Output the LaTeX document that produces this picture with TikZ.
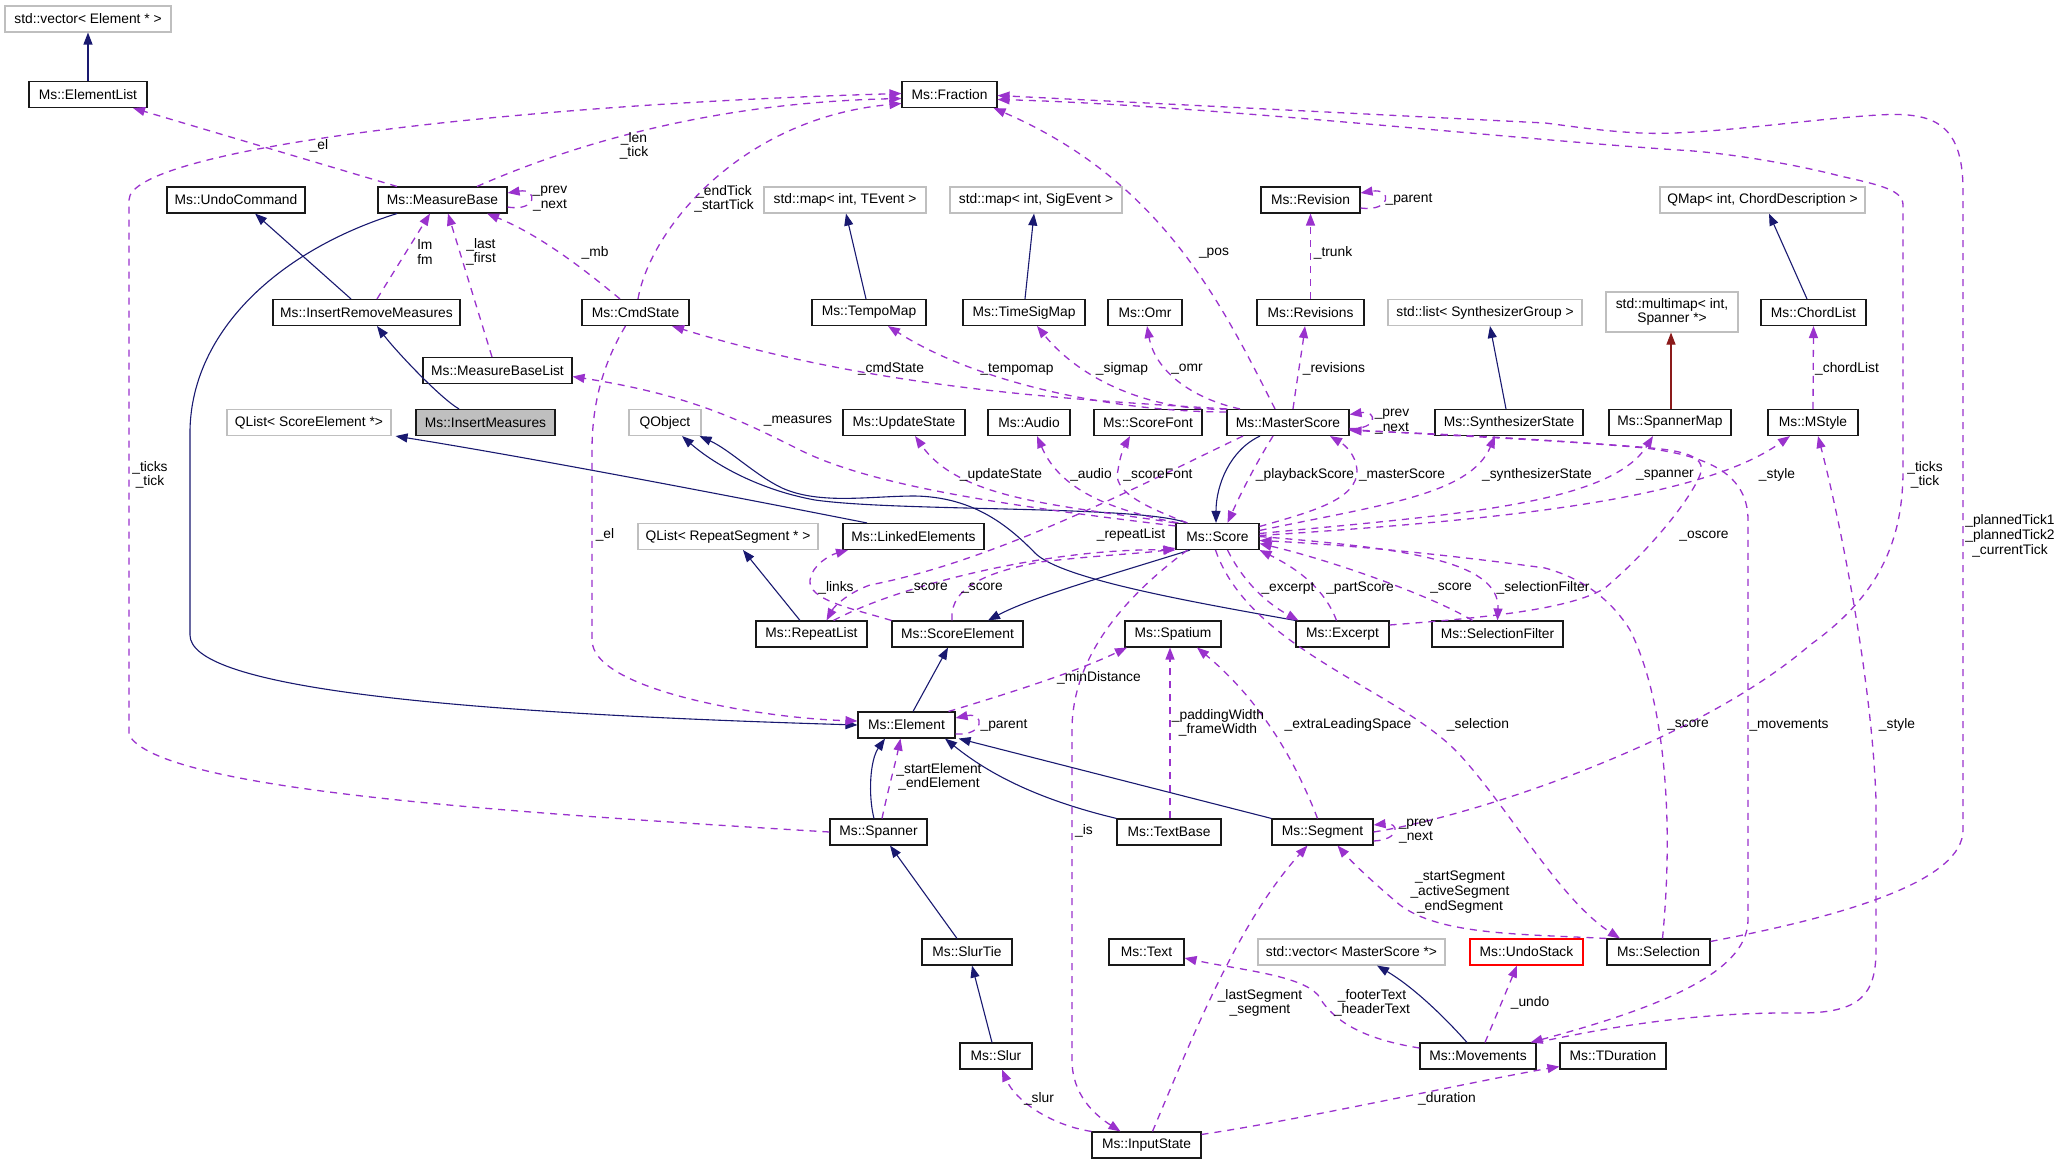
\documentclass[tikz,border=0pt]{standalone}
\usepackage{fontspec}
\setmainfont{Liberation Sans}
\usetikzlibrary{arrows.meta}
\definecolor{inhblue}{HTML}{191970}
\definecolor{usepurple}{HTML}{9A32CD}
\definecolor{tmplred}{HTML}{8B1A1A}
\definecolor{extgray}{HTML}{BFBFBF}

\begin{document}
\begin{tikzpicture}[x=1pt,y=-1pt,
  cls/.style={draw=black!90,line width=1.1pt,minimum height=26pt,inner xsep=2pt,inner ysep=1pt,align=center,font=\fontsize{13.8}{14.7}\selectfont},
  ext/.style={cls,draw=extgray},
  lbl/.style={inner sep=0pt,align=center,font=\fontsize{13.8}{14.7}\selectfont},
  derive/.style={draw=inhblue,line width=1.1pt,-{Triangle[length=12pt,width=9pt]}},
  member/.style={draw=usepurple,line width=1.3pt,dash pattern=on 7pt off 6pt,-{Triangle[length=12pt,width=9pt]}}]
\useasboundingbox (0,0) rectangle (2059,1164);

\node[ext,minimum width=166pt] (vecElem) at (88,19) {std::vector< Element * >};
\node[cls,minimum width=118pt] (ElementList) at (88,94.5) {Ms::ElementList};
\node[cls,minimum width=138pt] (UndoCommand) at (236,200) {Ms::UndoCommand};
\node[cls,minimum width=129pt] (MeasureBase) at (442.5,200) {Ms::MeasureBase};
\node[cls,minimum width=187pt] (InsertRemoveMeasures) at (366.5,312.5) {Ms::InsertRemoveMeasures};
\node[cls,minimum width=149pt] (MeasureBaseList) at (497.5,370.5) {Ms::MeasureBaseList};
\node[cls,fill=extgray,minimum width=139pt] (InsertMeasures) at (485.5,422.5) {Ms::InsertMeasures};
\node[ext,minimum width=164pt] (QListSE) at (309,422.5) {QList< ScoreElement *>};
\node[cls,minimum width=95pt] (Fraction) at (949.5,94.5) {Ms::Fraction};
\node[cls,minimum width=107pt] (CmdState) at (635.5,312.5) {Ms::CmdState};
\node[ext,minimum width=162pt] (mapTEvent) at (845,200) {std::map< int, TEvent >};
\node[cls,minimum width=114pt] (TempoMap) at (869,312.5) {Ms::TempoMap};
\node[ext,minimum width=172pt] (mapSigEvent) at (1036,200) {std::map< int, SigEvent >};
\node[cls,minimum width=122pt] (TimeSigMap) at (1024,312.5) {Ms::TimeSigMap};
\node[cls,minimum width=74pt] (Omr) at (1145,312.5) {Ms::Omr};
\node[cls,minimum width=99pt] (Revision) at (1310.5,200) {Ms::Revision};
\node[cls,minimum width=107pt] (Revisions) at (1310.5,312.5) {Ms::Revisions};
\node[ext,minimum width=194pt] (listSynth) at (1485,312.5) {std::list< SynthesizerGroup >};
\node[ext,minimum width=132pt,minimum height=40pt] (multimap) at (1672,312) {std::multimap< int,\\ Spanner *>};
\node[ext,minimum width=205pt] (QMap) at (1762.5,200) {QMap< int, ChordDescription >};
\node[cls,minimum width=105pt] (ChordList) at (1813.5,312.5) {Ms::ChordList};
\node[ext,minimum width=72pt] (QObject) at (665,422.5) {QObject};
\node[cls,minimum width=122pt] (UpdateState) at (904,422.5) {Ms::UpdateState};
\node[cls,minimum width=82pt] (Audio) at (1029,422.5) {Ms::Audio};
\node[cls,minimum width=108pt] (ScoreFont) at (1148,422.5) {Ms::ScoreFont};
\node[cls,minimum width=122pt] (MasterScore) at (1288,422.5) {Ms::MasterScore};
\node[cls,minimum width=148pt] (SynthesizerState) at (1509,422.5) {Ms::SynthesizerState};
\node[cls,minimum width=122pt] (SpannerMap) at (1670,422.5) {Ms::SpannerMap};
\node[cls,minimum width=90pt] (MStyle) at (1813,422.5) {Ms::MStyle};
\node[ext,minimum width=180pt] (QListRS) at (728,536.5) {QList< RepeatSegment * >};
\node[cls,minimum width=141pt] (LinkedElements) at (913.5,536.5) {Ms::LinkedElements};
\node[cls,minimum width=83pt] (Score) at (1217.5,536.5) {Ms::Score};
\node[cls,minimum width=111pt] (RepeatList) at (811.5,634) {Ms::RepeatList};
\node[cls,minimum width=131pt] (ScoreElement) at (957.5,634) {Ms::ScoreElement};
\node[cls,minimum width=96pt] (Spatium) at (1173,634) {Ms::Spatium};
\node[cls,minimum width=93pt] (Excerpt) at (1342.5,634) {Ms::Excerpt};
\node[cls,minimum width=131pt] (SelectionFilter) at (1497.5,634) {Ms::SelectionFilter};
\node[cls,minimum width=97pt] (Element) at (906.5,725) {Ms::Element};
\node[cls,minimum width=97pt] (Spanner) at (878.5,832) {Ms::Spanner};
\node[cls,minimum width=104pt] (TextBase) at (1169,832) {Ms::TextBase};
\node[cls,minimum width=101pt] (Segment) at (1322.5,832) {Ms::Segment};
\node[cls,minimum width=90pt] (SlurTie) at (967,952) {Ms::SlurTie};
\node[cls,minimum width=75pt] (Text) at (1146.5,952) {Ms::Text};
\node[ext,minimum width=187pt] (vecMS) at (1351.5,952) {std::vector< MasterScore *>};
\node[cls,draw=red,minimum width=113pt] (UndoStack) at (1526.5,952) {Ms::UndoStack};
\node[cls,minimum width=103pt] (Selection) at (1658.5,952) {Ms::Selection};
\node[cls,minimum width=72pt] (Slur) at (996,1056) {Ms::Slur};
\node[cls,minimum width=116pt] (Movements) at (1478,1056) {Ms::Movements};
\node[cls,minimum width=106pt] (TDuration) at (1613,1056) {Ms::TDuration};
\node[cls,minimum width=109pt] (InputState) at (1146.5,1145) {Ms::InputState};

\draw[derive] (ElementList.north) -- (vecElem.south);
\draw[derive] ([xshift=-15.5]InsertRemoveMeasures.north) -- ([xshift=19]UndoCommand.south);
\draw[derive] ([xshift=-26.5]InsertMeasures.north) .. controls (440,398) and (395,350) .. ([xshift=10.5]InsertRemoveMeasures.south);
\draw[derive] ([xshift=-3]TempoMap.north) -- ([xshift=1]mapTEvent.south);
\draw[derive] ([xshift=1]TimeSigMap.north) -- ([xshift=-2]mapSigEvent.south);
\draw[derive] ([xshift=-3]SynthesizerState.north) -- ([xshift=5]listSynth.south);
\draw[derive,draw=tmplred] ([xshift=1]SpannerMap.north) -- ([xshift=-1]multimap.south);
\draw[derive] ([xshift=-6.5]ChordList.north) -- ([xshift=6.5]QMap.south);
\draw[derive] ([xshift=-45.5]MeasureBase.south) .. controls (280,250) and (192,330) .. (190,430) -- (190,635) .. controls (190,685) and (420,712) .. (Element.west);
\draw[derive] ([xshift=-28]MasterScore.south) .. controls (1230,450) and (1216,485) .. ([xshift=-1.5]Score.north);
\draw[derive] ([xshift=-30.5]Score.north) .. controls (1140,505) and (900,512) .. (815,500) .. controls (760,490) and (715,465) .. ([xshift=17]QObject.south);
\draw[derive] (Excerpt.north west) .. controls (1180,600) and (1060,578) .. (1035,553) .. controls (1005,522) and (970,497) .. (915,496) .. controls (870,496) and (820,505) .. (782,488) .. controls (755,475) and (730,450) .. ([xshift=-2]QObject.south east);
\draw[derive] ([xshift=-46.5]LinkedElements.north) .. controls (700,490) and (520,456) .. ([xshift=4]QListSE.south east);
\draw[derive] ([xshift=-11.5]RepeatList.north) -- ([xshift=15]QListRS.south);
\draw[derive] ([xshift=-27.5]Score.south) .. controls (1100,578) and (1030,598) .. ([xshift=30.5]ScoreElement.north);
\draw[derive] ([xshift=6.5]Element.north) -- ([xshift=-9.5]ScoreElement.south);
\draw[derive] ([xshift=-4.5]Spanner.north) .. controls (868,795) and (870,760) .. ([xshift=-21.5]Element.south);
\draw[derive] (TextBase.north west) .. controls (1040,800) and (990,775) .. ([xshift=38.5]Element.south);
\draw[derive] (Segment.north west) -- ([xshift=3]Element.south east);
\draw[derive] ([xshift=-10]SlurTie.north) -- ([xshift=11.5]Spanner.south);
\draw[derive] ([xshift=-4]Slur.north) -- ([xshift=5]SlurTie.south);
\draw[derive] ([xshift=-11]Movements.north) .. controls (1440,1012) and (1410,985) .. ([xshift=25.5]vecMS.south);

\draw[member] ([xshift=-45.5]MeasureBase.north) -- ([xshift=45]ElementList.south);
\draw[member] ([xshift=34.5]MeasureBase.north) .. controls (560,150) and (700,103) .. ([yshift=-4]Fraction.west);
\draw[member] ([yshift=-7]MeasureBase.east) .. controls (538,212) and (538,188) .. ([yshift=7]MeasureBase.east);
\draw[member] ([xshift=10.5]InsertRemoveMeasures.north) -- ([xshift=-12.5]MeasureBase.south);
\draw[member] ([xshift=-5.5]MeasureBaseList.north) -- ([xshift=5.5]MeasureBase.south);
\draw[member] ([xshift=-15.5]CmdState.north) .. controls (585,270) and (540,235) .. ([xshift=44.5]MeasureBase.south);
\draw[member] ([xshift=2.5]CmdState.north) .. controls (650,230) and (740,118) .. ([yshift=-9]Fraction.west);
\draw[member] (Spanner.west) .. controls (500,812) and (160,790) .. (129,735) -- (129,200) .. controls (129,150) and (500,105) .. ([yshift=1]Fraction.west);
\draw[member] ([xshift=-13]MasterScore.north) .. controls (1220,300) and (1160,180) .. ([xshift=-4]Fraction.south east);
\draw[member] ([yshift=-3]Selection.north east) .. controls (1850,915) and (1963,880) .. (1963,830) -- (1963,190) .. controls (1963,120) and (1930,112) .. (1878,115) .. controls (1800,120) and (1700,136) .. (1640,133) .. controls (1600,131) and (1570,126) .. (1545,123) -- ([yshift=-1]Fraction.east);
\draw[member] (Segment.east) .. controls (1480,815) and (1700,740) .. (1810,645) .. controls (1880,595) and (1903,540) .. (1903,470) -- (1903,205) .. controls (1903,190) and (1880,185) .. (1840,176) .. controls (1790,163) and (1720,152) .. (1678,150) .. controls (1500,138) and (1200,105) .. ([yshift=-5]Fraction.east);
\draw[member] (MasterScore.north west) .. controls (1080,400) and (880,390) .. ([xshift=36.5]CmdState.south);
\draw[member] ([yshift=-3]MasterScore.north west) .. controls (1120,412) and (980,385) .. ([xshift=19]TempoMap.south);
\draw[member] ([xshift=1]MasterScore.north west) .. controls (1160,412) and (1085,385) .. ([xshift=13]TimeSigMap.south);
\draw[member] ([xshift=-48]MasterScore.north) .. controls (1190,398) and (1155,370) .. ([xshift=2]Omr.south);
\draw[member] ([xshift=5]MasterScore.north) .. controls (1297,380) and (1302,350) .. ([xshift=-5.5]Revisions.south);
\draw[member] (Revisions.north) -- (Revision.south);
\draw[member] ([yshift=-8]Revision.east) .. controls (1392,212) and (1392,188) .. ([yshift=7]Revision.east);
\draw[member] (MStyle.north) -- (ChordList.south);
\draw[member] ([yshift=-6]MasterScore.east) .. controls (1378,430) and (1378,410) .. ([yshift=8]MasterScore.east);
\draw[member] ([yshift=-7]MasterScore.east) .. controls (1450,436) and (1560,440) .. (1645,448) .. controls (1700,455) and (1748,470) .. (1748,520) -- (1748,920) .. controls (1748,975) and (1650,1010) .. ([xshift=-6]Movements.north east);
\draw[member] ([yshift=9]Excerpt.east) .. controls (1480,618) and (1570,610) .. (1605,588) .. controls (1650,550) and (1690,500) .. (1700,475) .. controls (1708,455) and (1680,450) .. (1640,447) .. controls (1550,440) and (1450,434) .. ([yshift=-8]MasterScore.east);
\draw[member] ([yshift=10]Score.east) .. controls (1310,512) and (1358,500) .. (1357,470) .. controls (1356,455) and (1345,445) .. ([xshift=42]MasterScore.south);
\draw[member] ([xshift=-15]MasterScore.south) .. controls (1255,465) and (1240,495) .. ([xshift=10]Score.north);
\draw[member] (Score.north west) .. controls (1060,505) and (960,500) .. ([xshift=11]UpdateState.south);
\draw[member] ([xshift=3]Score.north west) .. controls (1110,510) and (1060,490) .. ([xshift=8]Audio.south);
\draw[member] ([xshift=-30]Score.north) .. controls (1140,505) and (1112,490) .. (1118,470) .. controls (1120,455) and (1125,445) .. ([xshift=-18]ScoreFont.south);
\draw[member] ([yshift=-3]Score.north west) .. controls (1000,505) and (870,485) .. (800,450) .. controls (740,420) and (690,395) .. ([yshift=-6]MeasureBaseList.east);
\draw[member] ([xshift=-45]MasterScore.south) .. controls (1150,480) and (1000,560) .. (870,585) .. controls (850,592) and (835,605) .. ([xshift=15]RepeatList.north);
\draw[member] (ScoreElement.north west) .. controls (850,608) and (808,600) .. (810,580) .. controls (812,565) and (830,555) .. ([xshift=-65.5]LinkedElements.south);
\draw[member] ([xshift=22]RepeatList.north) .. controls (900,585) and (1050,548) .. (Score.south west);
\draw[member] ([xshift=-5.5]ScoreElement.north) .. controls (950,595) and (970,575) .. (1040,562) .. controls (1100,555) and (1150,553) .. ([yshift=2]Score.south west);
\draw[member] ([xshift=10]Score.south) .. controls (1245,585) and (1270,605) .. ([xshift=3]Excerpt.north west);
\draw[member] ([xshift=-6]Excerpt.north) .. controls (1325,590) and (1300,570) .. (Score.south east);
\draw[member] ([xshift=-25]SelectionFilter.north) .. controls (1430,595) and (1330,560) .. ([yshift=-7]Score.east);
\draw[member] (Score.east) .. controls (1400,548) and (1500,560) .. (SelectionFilter.north);
\draw[member] ([xshift=4]Selection.north) .. controls (1674,820) and (1665,700) .. (1630,630) .. controls (1605,590) and (1570,575) .. (1545,568) .. controls (1450,555) and (1350,545) .. ([yshift=-4]Score.east);
\draw[member] ([xshift=-2]Score.south) .. controls (1250,650) and (1400,690) .. (1460,755) .. controls (1510,810) and (1560,900) .. ([xshift=-38.5]Selection.north);
\draw[member] ([xshift=-5]Segment.north) .. controls (1295,760) and (1260,700) .. ([xshift=24]Spatium.south);
\draw[member] ([xshift=1]TextBase.north) -- ([xshift=-3]Spatium.south);
\draw[member] ([xshift=42]Element.north) .. controls (1020,690) and (1080,670) .. ([xshift=-46]Spatium.south);
\draw[member] ([yshift=-9]Element.east) .. controls (985,736) and (985,712) .. ([yshift=7]Element.east);
\draw[member] ([xshift=-10]CmdState.south) .. controls (605,360) and (592,400) .. (592,450) -- (592,640) .. controls (592,690) and (760,718) .. ([yshift=4]Element.west);
\draw[member] ([xshift=3.5]Spanner.north) .. controls (888,790) and (895,765) .. ([xshift=-6]Element.south);
\draw[member] ([yshift=-9]Segment.east) .. controls (1400,840) and (1400,822) .. ([yshift=7]Segment.east);
\draw[member] ([xshift=6]InputState.north) .. controls (1195,1030) and (1240,920) .. ([xshift=-15]Segment.south);
\draw[member] (Selection.north west) .. controls (1520,934) and (1440,935) .. (1400,905) .. controls (1370,880) and (1350,860) .. ([xshift=15]Segment.south);
\draw[member] ([xshift=7]Movements.north) -- ([xshift=-9.5]UndoStack.south);
\draw[member] ([yshift=8]Movements.west) .. controls (1370,1040) and (1335,1025) .. (1318,995) .. controls (1300,975) and (1240,970) .. ([yshift=-6]Text.east);
\draw[member] ([yshift=-3]InputState.north east) .. controls (1300,1120) and (1480,1080) .. ([yshift=3]TDuration.south west);
\draw[member] (InputState.north west) .. controls (1050,1125) and (1015,1100) .. ([xshift=6]Slur.south);
\draw[member] ([xshift=-30]Score.south) .. controls (1120,600) and (1072,660) .. (1072,730) -- (1072,1060) .. controls (1072,1095) and (1095,1115) .. ([xshift=-26]InputState.north);
\draw[member] (Movements.north east) .. controls (1620,1025) and (1700,1012) .. (1800,1013) .. controls (1860,1013) and (1876,995) .. (1876,950) -- (1876,800) .. controls (1872,680) and (1840,520) .. ([xshift=5]MStyle.south);
\draw[member] ([yshift=6]Score.east) .. controls (1380,505) and (1470,495) .. ([xshift=-14]SynthesizerState.south);
\draw[member] ([yshift=3]Score.east) .. controls (1450,515) and (1610,505) .. ([xshift=-17]SpannerMap.south);
\draw[member] ([yshift=1]Score.east) .. controls (1500,520) and (1700,500) .. ([xshift=-23]MStyle.south);

\node[lbl] (lEl) at (319,146) {\_el};
\node[lbl] (lLen) at (634,146) {\_len\\\_tick};
\node[lbl] (lMBprev) at (550,199) {\_prev\\\_next};
\node[lbl] (lLm) at (425,252) {lm\\fm};
\node[lbl] (lLast) at (481,252) {\_last\\\_first};
\node[lbl] (lMb) at (595,253) {\_mb};
\node[lbl] (lEndTick) at (724,199) {\_endTick\\\_startTick};
\node[lbl] (lTicksSp) at (150,475) {\_ticks\\\_tick};
\node[lbl] (lPos) at (1214,253) {\_pos};
\node[lbl] (lPlanned) at (2010,536) {\_plannedTick1\\\_plannedTick2\\\_currentTick};
\node[lbl] (lTicksSeg) at (1925,475) {\_ticks\\\_tick};
\node[lbl] (lCmd) at (891,369) {\_cmdState};
\node[lbl] (lTempo) at (1017,369) {\_tempomap};
\node[lbl] (lSig) at (1122,369) {\_sigmap};
\node[lbl] (lOmr) at (1187,369) {\_omr};
\node[lbl] (lRevs) at (1334,369) {\_revisions};
\node[lbl] (lTrunk) at (1333,253) {\_trunk};
\node[lbl] (lParentRev) at (1409,199) {\_parent};
\node[lbl] (lChord) at (1847,369) {\_chordList};
\node[lbl] (lMSprev) at (1392,422) {\_prev\\\_next};
\node[lbl] (lMov) at (1789,725) {\_movements};
\node[lbl] (lOscore) at (1704,536) {\_oscore};
\node[lbl] (lMaster) at (1402,475) {\_masterScore};
\node[lbl] (lPlayback) at (1305,475) {\_playbackScore};
\node[lbl] (lUpdate) at (1001,475) {\_updateState};
\node[lbl] (lAudio) at (1091,475) {\_audio};
\node[lbl] (lScoreFont) at (1158,475) {\_scoreFont};
\node[lbl] (lMeasures) at (798,421) {\_measures};
\node[lbl] (lRepeat) at (1131,535) {\_repeatList};
\node[lbl] (lLinks) at (836,588) {\_links};
\node[lbl] (lScoreRL) at (927,588) {\_score};
\node[lbl] (lScoreSE) at (982,588) {\_score};
\node[lbl] (lExcerpt) at (1288,588) {\_excerpt};
\node[lbl] (lPart) at (1360,588) {\_partScore};
\node[lbl] (lScoreSF) at (1451,588) {\_score};
\node[lbl] (lSelFilter) at (1543,588) {\_selectionFilter};
\node[lbl] (lScoreSel) at (1688,725) {\_score};
\node[lbl] (lSelection) at (1478,725) {\_selection};
\node[lbl] (lExtra) at (1348,725) {\_extraLeadingSpace};
\node[lbl] (lPadding) at (1218,723) {\_paddingWidth\\\_frameWidth};
\node[lbl] (lMinDist) at (1099,678) {\_minDistance};
\node[lbl] (lParentEl) at (1004,725) {\_parent};
\node[lbl] (lElCmd) at (605,535) {\_el};
\node[lbl] (lStartEl) at (939,777) {\_startElement\\\_endElement};
\node[lbl] (lSegPrev) at (1416,831) {\_prev\\\_next};
\node[lbl] (lLastSeg) at (1260,1003) {\_lastSegment\\\_segment};
\node[lbl] (lStartSeg) at (1460,892) {\_startSegment\\\_activeSegment\\\_endSegment};
\node[lbl] (lUndo) at (1530,1003) {\_undo};
\node[lbl] (lFooter) at (1372,1003) {\_footerText\\\_headerText};
\node[lbl] (lDuration) at (1447,1099) {\_duration};
\node[lbl] (lSlur) at (1039,1099) {\_slur};
\node[lbl] (lIs) at (1084,831) {\_is};
\node[lbl] (lStyleMov) at (1897,725) {\_style};
\node[lbl] (lSynth) at (1537,475) {\_synthesizerState};
\node[lbl] (lSpanner) at (1665,475) {\_spanner};
\node[lbl] (lStyleScore) at (1777,475) {\_style};
\end{tikzpicture}
\end{document}
